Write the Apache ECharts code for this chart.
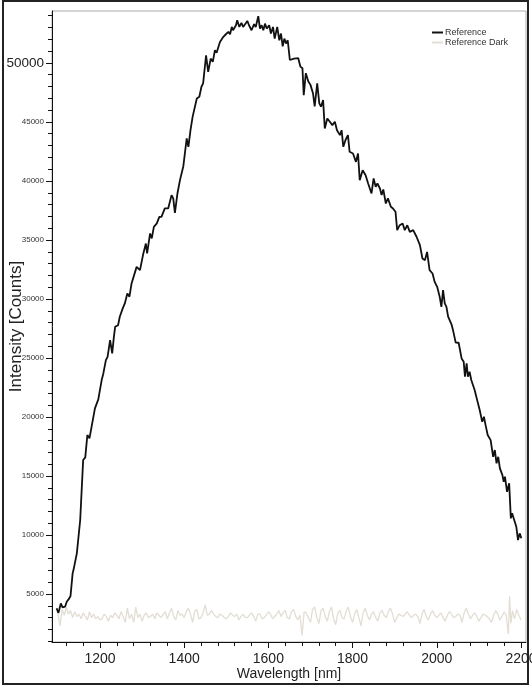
<!DOCTYPE html>
<html>
<head>
<meta charset="utf-8">
<script src="https://cdn.jsdelivr.net/npm/echarts@6/dist/echarts.min.js"></script>
<style>
  html, body { margin: 0; padding: 0; background: #fff; }
  #chart { width: 532px; height: 686px; }
</style>
</head>
<body>
<div id="chart"></div>
<script>
// Reference spectrum
const refWavelength = [
  1097, 1101, 1103, 1107, 1111, 1117, 1121, 1127, 1130, 1135, 1137, 1140, 1145, 1153, 1160, 1165, 1170, 1175, 1180, 1188,
  1196, 1204, 1208, 1214, 1218, 1224, 1229, 1233, 1236, 1243, 1247, 1254, 1259, 1265, 1270, 1275, 1287, 1295, 1303, 1309,
  1312, 1319, 1323, 1328, 1335, 1341, 1346, 1354, 1362, 1370, 1374, 1378, 1384, 1390, 1398, 1402, 1406, 1410, 1415, 1420,
  1423, 1430, 1436, 1441, 1445, 1452, 1457, 1463, 1468, 1473, 1477, 1485, 1489, 1493, 1499, 1505, 1509, 1513, 1516, 1523,
  1526, 1531, 1536, 1540, 1544, 1550, 1554, 1560, 1566, 1570, 1576, 1580, 1584, 1588, 1592, 1596, 1602, 1606, 1611, 1615,
  1621, 1626, 1630, 1634, 1638, 1642, 1646, 1651, 1655, 1661, 1665, 1671, 1676, 1681, 1684, 1689, 1695, 1700, 1706, 1710,
  1716, 1721, 1725, 1730, 1734, 1740, 1746, 1752, 1758, 1763, 1770, 1774, 1778, 1783, 1789, 1793, 1801, 1808, 1813, 1817,
  1824, 1831, 1837, 1845, 1850, 1855, 1859, 1865, 1869, 1873, 1879, 1884, 1891, 1896, 1902, 1906, 1912, 1919, 1924, 1930,
  1936, 1944, 1952, 1960, 1966, 1972, 1977, 1983, 1990, 1995, 2001, 2007, 2011, 2015, 2019, 2023, 2027, 2035, 2039, 2045,
  2052, 2059, 2064, 2067, 2071, 2074, 2078, 2082, 2090, 2096, 2102, 2108, 2112, 2116, 2121, 2128, 2134, 2138, 2142, 2146,
  2150, 2156, 2159, 2162, 2167, 2172, 2174, 2176, 2179, 2183, 2189, 2193, 2197, 2201
]
const refIntensity = [
  3790, 3390, 3650, 4210, 3870, 3925, 4350, 4630, 4830, 6750, 7030, 6890, 8450, 11270, 16350, 16580, 18470, 18190, 19170, 20730,
  21490, 23130, 23690, 24820, 25100, 26510, 25390, 26790, 27640, 27780, 28490, 29200, 29620, 30470, 30190, 31320, 32720, 32440, 33860, 34700,
  33860, 35550, 35130, 36110, 36400, 36960, 36960, 37670, 37670, 38800, 38520, 37300, 38940, 40070, 41250, 41190, 43600, 42890, 44300, 45430,
  45490, 46990, 47130, 47980, 48260, 50650, 49240, 50370, 50090, 51080, 50860, 51780, 51640, 52210, 52430, 52630, 52430, 53050, 52770, 53190,
  53620, 53050, 53390, 53050, 53190, 53560, 53190, 52770, 53280, 53050, 53960, 52910, 53190, 52770, 53330, 52910, 53190, 52490, 53050, 52060,
  53050, 51920, 52490, 51410, 52060, 51640, 51920, 50250, 50090, 50370, 50510, 50400, 49690, 49550, 47270, 49130, 48430, 48140, 47440, 46310,
  48260, 46570, 46290, 46850, 44450, 45290, 45010, 44730, 45010, 44300, 43880, 44300, 42890, 43450, 43880, 42470, 42330, 41620, 42330, 40070,
  40910, 40490, 39790, 38940, 40210, 39500, 39790, 39360, 38800, 39280, 38090, 38520, 37810, 37670, 37390, 35830, 36250, 36400, 35830, 36250,
  35690, 35830, 35270, 34560, 33430, 33290, 33990, 32440, 32160, 31450, 31030, 30180, 29330, 30750, 29620, 29330, 28500, 27850, 27300, 26300,
  26290, 24960, 24680, 23410, 24540, 23410, 23830, 23130, 22280, 21430, 20590, 19590, 20020, 19310, 18470, 18040, 16630, 17200, 16070, 16630,
  15650, 15080, 14510, 14940, 13660, 14380, 14510, 11410, 11840, 11690, 10700, 9570, 10140, 9720
]

// Dark spectrum
const darkWavelength = [
  1100, 1105, 1110, 1115, 1120, 1125, 1130, 1135, 1140, 1145, 1150, 1155, 1160, 1165, 1170, 1175, 1180, 1185, 1190, 1195,
  1200, 1205, 1210, 1215, 1220, 1225, 1230, 1235, 1240, 1245, 1250, 1255, 1260, 1265, 1270, 1275, 1280, 1285, 1290, 1295,
  1300, 1305, 1310, 1315, 1320, 1325, 1330, 1335, 1340, 1345, 1350, 1355, 1360, 1365, 1370, 1375, 1380, 1385, 1390, 1395,
  1400, 1405, 1410, 1415, 1420, 1425, 1430, 1435, 1440, 1445, 1450, 1455, 1460, 1465, 1470, 1475, 1480, 1485, 1490, 1495,
  1500, 1505, 1510, 1515, 1520, 1525, 1530, 1535, 1540, 1545, 1550, 1555, 1560, 1565, 1570, 1575, 1580, 1585, 1590, 1595,
  1600, 1605, 1610, 1615, 1620, 1625, 1630, 1635, 1640, 1645, 1650, 1655, 1660, 1665, 1670, 1675, 1680, 1685, 1690, 1695,
  1700, 1705, 1710, 1715, 1720, 1725, 1730, 1735, 1740, 1745, 1750, 1755, 1760, 1765, 1770, 1775, 1780, 1785, 1790, 1795,
  1800, 1805, 1810, 1815, 1820, 1825, 1830, 1835, 1840, 1845, 1850, 1855, 1860, 1865, 1870, 1875, 1880, 1885, 1890, 1895,
  1900, 1905, 1910, 1915, 1920, 1925, 1930, 1935, 1940, 1945, 1950, 1955, 1960, 1965, 1970, 1975, 1980, 1985, 1990, 1995,
  2000, 2005, 2010, 2015, 2020, 2025, 2030, 2035, 2040, 2045, 2050, 2055, 2060, 2065, 2070, 2075, 2080, 2085, 2090, 2095,
  2100, 2105, 2110, 2115, 2120, 2125, 2130, 2135, 2140, 2145, 2150, 2155, 2160, 2165, 2170, 2173, 2176, 2180, 2185, 2190,
  2195, 2200
]
const darkIntensity = [
  3300, 2300, 3700, 3200, 3900, 3300, 3600, 3000, 3500, 3100, 3300, 2900, 3400, 3100, 2800, 3500, 3000, 3300, 2900, 3100,
  2800, 2900, 3300, 3100, 2700, 3200, 3000, 3400, 3200, 2900, 3500, 3100, 2600, 3800, 2900, 3300, 2600, 3900, 3000, 3300,
  2700, 3200, 3400, 3000, 3100, 3300, 2900, 3400, 3200, 3000, 3300, 3500, 2900, 3400, 3800, 3100, 2800, 3600, 3200, 3300,
  3000, 3500, 3800, 3300, 2600, 3500, 3700, 2900, 3000, 3400, 4100, 3200, 3300, 3600, 3300, 3100, 3000, 3300, 3200, 3000,
  2900, 3100, 3400, 3200, 3100, 3300, 2800, 3100, 3300, 3000, 3000, 3200, 3400, 3100, 2700, 3300, 3300, 2900, 3000, 3200,
  3500, 3300, 2900, 3100, 3300, 3600, 3100, 3400, 3600, 3000, 2900, 3500, 3700, 3100, 2800, 3200, 1500, 3500, 3400, 3000,
  2600, 3700, 3900, 3000, 2500, 3600, 3800, 3100, 2700, 3500, 3900, 2900, 2400, 3400, 3600, 3000, 2900, 3600, 3900, 3100,
  2600, 3300, 3700, 3000, 2300, 3400, 3800, 3200, 2800, 3300, 3500, 3000, 2700, 3400, 3600, 3200, 3000, 3500, 3800, 3300,
  2600, 3000, 3300, 3200, 3100, 3300, 3500, 3200, 3000, 3200, 3300, 3100, 2500, 3300, 3700, 3100, 2800, 3300, 3600, 3200,
  3000, 3200, 3400, 3000, 2700, 3200, 3500, 3300, 3000, 3100, 3300, 3200, 2600, 3400, 3800, 3300, 2900, 3200, 3400, 3100,
  2700, 3000, 3300, 3200, 3100, 2900, 2600, 3200, 3600, 3300, 2800, 3100, 3500, 3200, 1600, 4800, 2500, 3600, 2900, 3700,
  3200, 2800
]

const xTickLabels = [1200, 1400, 1600, 1800, 2000, 2200]
const xMinorTicks = [1120, 1160, 1200, 1240, 1280, 1320, 1360, 1400, 1440, 1480, 1520, 1560, 1600, 1640, 1680, 1720, 1760, 1800,
  1840, 1880, 1920, 1960, 2000, 2040, 2080, 2120, 2160, 2200]
const yTickLabels = [5000, 10000, 15000, 20000, 25000, 30000, 35000, 40000, 45000, 50000]
const yMinorTicks = [1000, 2000, 3000, 4000, 5000, 6000, 7000, 8000, 9000, 10000, 11000, 12000, 13000, 14000, 15000, 16000, 17000,
  18000, 19000, 20000, 21000, 22000, 23000, 24000, 25000, 26000, 27000, 28000, 29000, 30000, 31000, 32000, 33000, 34000, 35000,
  36000, 37000, 38000, 39000, 40000, 41000, 42000, 43000, 44000, 45000, 46000, 47000, 48000, 49000, 50000, 51000, 52000, 53000, 54000]

const font = "'Liberation Sans', Arial, sans-serif"
const xMin = 1086, xMax = 2212
const yMin = 935, yMax = 54400

const chart = echarts.init(document.getElementById('chart'))

chart.setOption({
  animation: false,
  backgroundColor: '#fff',
  textStyle: { fontFamily: font },
  grid: {
    left: 52,
    right: 6,
    top: 11,
    bottom: 44,
    containLabel: false,
    outerBoundsMode: 'none',
    show: true,
    borderColor: '#aaa',
    borderWidth: 1
  },
  legend: {
    orient: 'vertical',
    right: 19,
    top: 23,
    itemGap: 1,
    itemWidth: 11,
    itemHeight: 2,
    icon: 'rect',
    textStyle: { fontSize: 9, color: '#333', fontFamily: font, padding: [0, 0, 0, -3] },
    data: ['Reference', 'Reference Dark']
  },
  xAxis: [
    {
      type: 'value',
      min: xMin,
      max: xMax,
      name: 'Wavelength [nm]',
      nameLocation: 'middle',
      nameGap: 25,
      nameMoveOverlap: false,
      nameTextStyle: { fontSize: 14, color: '#222', fontFamily: font },
      axisLine: { lineStyle: { color: '#111', width: 1 } },
      axisTick: { customValues: xTickLabels, length: 6, lineStyle: { color: '#111' } },
      axisLabel: {
        customValues: xTickLabels,
        formatter: v => String(v),
        fontSize: 14,
        color: '#222',
        margin: 10,
        fontFamily: font
      },
      splitLine: { show: false }
    },
    {
      type: 'value',
      min: xMin,
      max: xMax,
      position: 'bottom',
      axisLine: { show: false },
      axisTick: { customValues: xMinorTicks, length: 4, lineStyle: { color: '#111' } },
      axisLabel: { show: false },
      splitLine: { show: false }
    }
  ],
  yAxis: [
    {
      type: 'value',
      min: yMin,
      max: yMax,
      name: 'Intensity [Counts]',
      nameLocation: 'middle',
      nameGap: 27,
      nameMoveOverlap: false,
      nameTextStyle: { fontSize: 17, color: '#222', fontFamily: font },
      axisLine: { show: true, lineStyle: { color: '#111', width: 1 } },
      axisTick: { show: true, customValues: yTickLabels, length: 6, lineStyle: { color: '#111' } },
      axisLabel: {
        customValues: yTickLabels,
        margin: 8,
        formatter: v => (v === 50000 ? '{big|' + v + '}' : '{small|' + v + '}'),
        rich: {
          big: { fontSize: 13.5, color: '#222', fontFamily: font },
          small: { fontSize: 8, color: '#333', fontFamily: font }
        }
      },
      splitLine: { show: false }
    },
    {
      type: 'value',
      min: yMin,
      max: yMax,
      position: 'left',
      axisLine: { show: false },
      axisTick: { show: true, customValues: yMinorTicks, length: 4, lineStyle: { color: '#111' } },
      axisLabel: { show: false },
      splitLine: { show: false }
    }
  ],
  series: [
    {
      name: 'Reference',
      type: 'line',
      showSymbol: false,
      symbol: 'none',
      z: 3,
      color: '#111',
      lineStyle: { color: '#111', width: 1.8 },
      data: refWavelength.map((w, i) => [w, refIntensity[i]])
    },
    {
      name: 'Reference Dark',
      type: 'line',
      showSymbol: false,
      symbol: 'none',
      z: 2,
      color: '#e2ded4',
      lineStyle: { color: '#e2ded4', width: 1.3 },
      data: darkWavelength.map((w, i) => [w, darkIntensity[i]])
    }
  ],
  graphic: [
    {
      type: 'rect',
      silent: true,
      shape: { x: 3, y: 1, width: 525, height: 683 },
      style: { fill: 'none', stroke: '#222', lineWidth: 2 }
    }
  ]
})
</script>
</body>
</html>
